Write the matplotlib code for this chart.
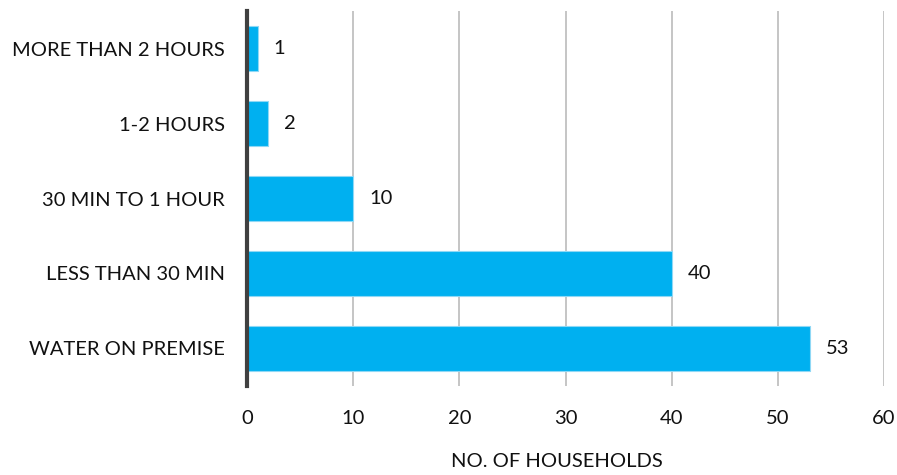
import matplotlib
matplotlib.use('Agg')
import matplotlib.pyplot as plt

# time spent fetching water, households per category
kategorier = ['WATER ON PREMISE', 'LESS THAN 30 MIN', '30 MIN TO 1 HOUR',
              '1-2 HOURS', 'MORE THAN 2 HOURS']
husholdninger = [53, 40, 10, 2, 1]
x_ticks = [0, 10, 20, 30, 40, 50, 60]

plt.rcParams['font.family'] = ['Lato', 'DejaVu Sans']
skrift = 14.5

fig = plt.figure(figsize=(8.97, 4.75), dpi=100)
ax = fig.add_axes([0.2754, 0.1874, 0.9855 - 0.2754, 0.9768 - 0.1874])

stolper = ax.barh(kategorier, husholdninger, height=0.6, color='#00B0F0',
                  edgecolor='#8FD8F5', linewidth=0.8, zorder=3)

for stolpe, verdi in zip(stolper, husholdninger):
    ax.text(stolpe.get_width() + 1.5, stolpe.get_y() + stolpe.get_height() / 2,
            str(verdi), va='center', ha='left', fontsize=skrift, color='#111111')

ax.set_xlim(0, 60)
ax.set_ylim(-0.5, len(kategorier) - 0.5)
ax.set_xticks(x_ticks)
ax.xaxis.grid(True, color='#BBBBBB', linewidth=1.2, zorder=0)
ax.set_axisbelow(True)

for side in ['top', 'right', 'bottom']:
    ax.spines[side].set_visible(False)
ax.spines['left'].set_color('#404040')
ax.spines['left'].set_linewidth(3)
ax.spines['left'].set_zorder(4)

ax.tick_params(axis='both', length=0, labelsize=skrift, colors='#111111')
ax.tick_params(axis='x', pad=17)
ax.tick_params(axis='y', pad=16)

ax.set_xlabel('NO. OF HOUSEHOLDS', fontsize=skrift, color='#111111')
ax.xaxis.set_label_coords(0.487, -0.18)

fig.savefig('out.png', dpi=100)
